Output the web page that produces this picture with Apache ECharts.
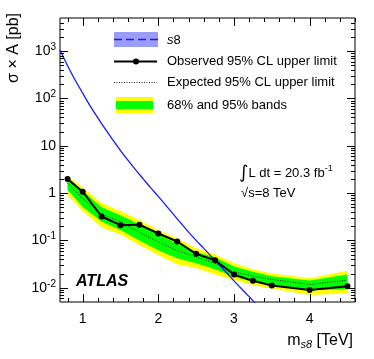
<!DOCTYPE html>
<html>
<head>
<meta charset="utf-8">
<script src="https://cdn.jsdelivr.net/npm/echarts@6/dist/echarts.min.js"></script>
<style>
  html, body, #main { margin: 0; padding: 0; width: 374px; height: 359px; background: #fff; }
</style>
</head>
<body>
<div id="main"></div>
<script>
// limit points (TeV) and cross sections (pb)
var massPoints = [0.8, 1.0, 1.25, 1.5, 1.75, 2.0, 2.25, 2.5, 2.75, 3.0, 3.25, 3.5, 4.0, 4.5];
var observed   = [1.98, 1.07, 0.32, 0.21, 0.215, 0.14, 0.095, 0.052, 0.038, 0.019, 0.014, 0.0112, 0.009, 0.0108];
var expected   = [1.6, 0.77, 0.355, 0.25, 0.148, 0.093, 0.061, 0.045, 0.033, 0.0217, 0.0176, 0.015, 0.0117, 0.0145];
var greenLo    = [1.16, 0.51, 0.25, 0.165, 0.10, 0.062, 0.042, 0.033, 0.0245, 0.017, 0.0133, 0.0114, 0.0089, 0.0093];
var greenHi    = [2.15, 1.12, 0.50, 0.34, 0.22, 0.134, 0.086, 0.057, 0.044, 0.028, 0.0217, 0.0176, 0.0142, 0.019];
var yellowLo   = [0.91, 0.42, 0.19, 0.134, 0.08, 0.049, 0.031, 0.026, 0.019, 0.0145, 0.0114, 0.0097, 0.0070, 0.0076];
var yellowHi   = [2.3, 1.32, 0.62, 0.42, 0.27, 0.165, 0.11, 0.068, 0.051, 0.033, 0.0245, 0.020, 0.0158, 0.023];

// s8 theory curve
var s8Mass = [0.7, 0.8, 0.9, 1.0, 1.1, 1.2, 1.3, 1.4, 1.5, 1.6, 1.7, 1.8, 1.9, 2.0, 2.1, 2.2, 2.3, 2.4, 2.5, 2.6, 2.7, 2.8, 2.9, 3.0, 3.1, 3.2, 3.3, 3.4];
var s8Xsec = [1050, 490, 245, 129, 69, 39, 22.4, 13.2, 7.9, 4.9, 3.1, 2.0, 1.29, 0.85, 0.55, 0.355, 0.23, 0.15, 0.1, 0.068, 0.046, 0.031, 0.021, 0.014, 0.0095, 0.0065, 0.0044, 0.003];

var xMin = 0.7, xMax = 4.6, yMin = 0.005, yMax = 5000;
var FONT = '"Liberation Sans", Arial, sans-serif';

function pairs(xs, ys) { return xs.map(function (x, i) { return [x, ys[i]]; }); }

// tick marks drawn on all four sides (ROOT style)
var ticks = [];
for (var i = 8; i <= 46; i += 2) ticks.push([i / 10, 1, i % 10 === 0 ? 0 : 1]);
for (var d = -3; d <= 3; d++) {
  for (var k = 1; k <= 9; k++) {
    var v = k * Math.pow(10, d);
    if (v > yMin && v < yMax) ticks.push([1, v, k === 1 ? 2 : 3]);
  }
}

var myChart = echarts.init(document.getElementById('main'));
myChart.setOption({
  animation: false,
  grid: { left: 60, right: 19, top: 18, bottom: 57, show: true, borderColor: '#000', borderWidth: 1 },
  xAxis: {
    type: 'value', min: xMin, max: xMax, interval: 0.1,
    axisLine: { show: false }, axisTick: { show: false }, splitLine: { show: false },
    axisLabel: {
      margin: 10, color: '#000', fontSize: 14, fontFamily: FONT,
      formatter: function (v) { return Math.abs(v - Math.round(v)) < 1e-6 ? String(Math.round(v)) : ''; }
    }
  },
  yAxis: {
    type: 'log', min: yMin, max: yMax, logBase: 10,
    axisLine: { show: false }, axisTick: { show: false }, splitLine: { show: false },
    axisLabel: {
      margin: 4, color: '#000', fontSize: 14, fontFamily: FONT,
      showMinLabel: false, showMaxLabel: false,
      formatter: function (v) {
        var l = Math.log10(v), k = Math.round(l);
        if (Math.abs(l - k) > 1e-6) return '';
        if (k === 0) return '1';
        if (k === 1) return '10';
        return '{b|10}{s|' + k + '}';
      },
      rich: {
        b: { fontSize: 14, fontFamily: FONT, color: '#000' },
        s: { fontSize: 10, fontFamily: FONT, color: '#000', padding: [0, 0, 8, 0] }
      }
    }
  },
  series: [
    {
      type: 'custom', silent: true, z: 1,
      data: [[massPoints[0], expected[0]]],
      renderItem: function (params, api) {
        function poly(lo, hi, fill) {
          var pts = [];
          massPoints.forEach(function (m, i) { pts.push(api.coord([m, hi[i]])); });
          for (var j = massPoints.length - 1; j >= 0; j--) pts.push(api.coord([massPoints[j], lo[j]]));
          return { type: 'polygon', shape: { points: pts }, style: { fill: fill } };
        }
        return { type: 'group', children: [poly(yellowLo, yellowHi, '#ffff00'), poly(greenLo, greenHi, '#00ff00')] };
      }
    },
    {
      type: 'line', z: 2, data: pairs(massPoints, expected), symbol: 'none',
      lineStyle: { color: '#222', width: 1, type: [1, 1.5] }
    },
    {
      type: 'line', z: 3, data: pairs(s8Mass, s8Xsec), symbol: 'none', smooth: 0.3,
      lineStyle: { color: '#1a1aff', width: 1.3 }
    },
    {
      type: 'line', z: 4, data: pairs(massPoints, observed), symbol: 'circle', symbolSize: 6,
      itemStyle: { color: '#000' }, lineStyle: { color: '#000', width: 2 }
    },
    {
      type: 'custom', silent: true, z: 5,
      data: ticks,
      renderItem: function (params, api) {
        var cs = params.coordSys, kind = api.value(2);
        var len = (kind === 0 || kind === 2) ? 8 : 4;
        var st = { stroke: '#000', lineWidth: 1 };
        if (kind < 2) {
          var px = Math.round(api.coord([api.value(0), 1])[0]) + 0.5;
          var yb = cs.y + cs.height, yt = cs.y;
          return { type: 'group', children: [
            { type: 'line', shape: { x1: px, y1: yb, x2: px, y2: yb - len }, style: st },
            { type: 'line', shape: { x1: px, y1: yt, x2: px, y2: yt + len }, style: st }
          ] };
        }
        var py = Math.round(api.coord([1, api.value(1)])[1]) + 0.5;
        var xl = cs.x, xr = cs.x + cs.width;
        return { type: 'group', children: [
          { type: 'line', shape: { x1: xl, y1: py, x2: xl + len, y2: py }, style: st },
          { type: 'line', shape: { x1: xr, y1: py, x2: xr - len, y2: py }, style: st }
        ] };
      }
    }
  ],
  graphic: [
    // axis titles
    { type: 'text', x: 14, y: 13, rotation: Math.PI / 2,
      style: { text: 'σ × A [pb]', font: '16px ' + FONT, fill: '#000', align: 'right', verticalAlign: 'middle' } },
    { type: 'text', x: 353, y: 341,
      style: { text: '{n|m}{sub|s8}{n| [TeV]}', align: 'right', verticalAlign: 'middle',
        rich: { n: { fontSize: 16, fontFamily: FONT, fill: '#000' },
                sub: { fontSize: 11, fontFamily: FONT, fontStyle: 'italic', fill: '#000', padding: [8, 0, 0, 0] } } } },
    // legend
    { type: 'rect', shape: { x: 114, y: 32, width: 44, height: 15 }, style: { fill: '#9a9cf8' } },
    { type: 'line', shape: { x1: 114, y1: 39.5, x2: 158, y2: 39.5 }, style: { stroke: '#1a1aff', lineWidth: 1.3, lineDash: [8, 4] } },
    { type: 'text', x: 167, y: 40, style: { text: '{i|s}8', verticalAlign: 'middle', font: '13px ' + FONT, fill: '#000',
        rich: { i: { fontStyle: 'italic', fontSize: 13, fontFamily: FONT } } } },
    { type: 'line', shape: { x1: 114, y1: 61.5, x2: 157, y2: 61.5 }, style: { stroke: '#000', lineWidth: 2 } },
    { type: 'circle', shape: { cx: 136, cy: 61.5, r: 3 }, style: { fill: '#000' } },
    { type: 'text', x: 167, y: 61, style: { text: 'Observed 95% CL upper limit', verticalAlign: 'middle', font: '13px ' + FONT, fill: '#000' } },
    { type: 'line', shape: { x1: 114, y1: 82.5, x2: 157, y2: 82.5 }, style: { stroke: '#222', lineWidth: 1, lineDash: [1, 1.5] } },
    { type: 'text', x: 167, y: 82, style: { text: 'Expected 95% CL upper limit', verticalAlign: 'middle', font: '13px ' + FONT, fill: '#000' } },
    { type: 'rect', shape: { x: 116, y: 97, width: 37, height: 16 }, style: { fill: '#ffff00' } },
    { type: 'rect', shape: { x: 116, y: 101, width: 37, height: 8 }, style: { fill: '#00ff00' } },
    { type: 'text', x: 167, y: 105, style: { text: '68% and 95% bands', verticalAlign: 'middle', font: '13px ' + FONT, fill: '#000' } },
    // annotations
    { type: 'text', x: 239, y: 173, style: { text: '{i|∫}{t|L dt = 20.3 fb}{s|-1}', verticalAlign: 'middle',
        rich: { i: { fontSize: 18, fontFamily: '"DejaVu Sans", ' + FONT, fill: '#000' },
                t: { fontSize: 13, fontFamily: FONT, fill: '#000' },
                s: { fontSize: 9, fontFamily: FONT, fill: '#000', padding: [0, 0, 8, 0] } } } },
    { type: 'text', x: 241, y: 193, style: { text: '√s=8 TeV', verticalAlign: 'middle', font: '13px ' + FONT, fill: '#000' } },
    { type: 'text', x: 76, y: 282, style: { text: 'ATLAS', verticalAlign: 'middle', font: 'italic bold 16px ' + FONT, fill: '#000' } }
  ]
});
</script>
</body>
</html>
